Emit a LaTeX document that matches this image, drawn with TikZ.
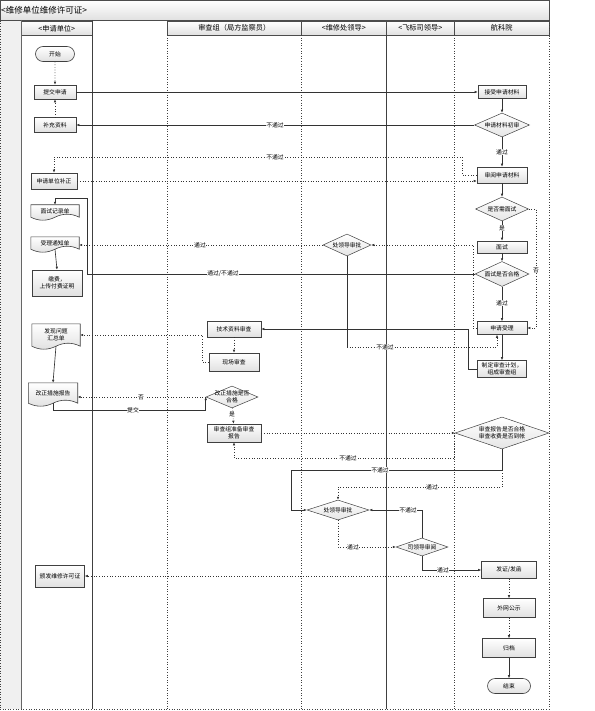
\documentclass[tikz,border=0pt]{standalone}
\usepackage{fontspec}
\setmainfont{Noto Sans CJK SC}
\usetikzlibrary{shapes.geometric,shapes.misc,arrows.meta,calc,backgrounds}
\newcommand{\dianode}[6]{\node[dia, minimum width=#4, minimum height=#5] (#1) at (#2,#3) {}; \node[dtext] (#1-t) at (#1) {#6};}
\newcommand{\docnode}[6]{\node[doc, minimum width=#4, minimum height=#5] (#1) at (#2,#3) {#6};
 \begin{pgfonlayer}{background}\path[draw=black!75, line width=0.6pt, top color=white, bottom color=black!12] (#1.north west) -- (#1.north east) -- (#1.south east) .. controls +(-8,-4) and +(8,-4) .. (#1.south) .. controls +(-8,4) and +(8,4) .. (#1.south west) -- cycle;\end{pgfonlayer}}
\begin{document}
\begin{tikzpicture}[x=1pt,y=-1pt,
  every node/.style={font=\fontsize{5.8}{7}\selectfont},
  box/.style={draw=black!75, line width=0.6pt, top color=white, bottom color=black!12, rectangle, inner sep=0.5pt, align=center},
  term/.style={box, rounded rectangle},
  dia/.style={draw=black!75, line width=0.5pt, diamond, top color=white, bottom color=black!10, inner sep=0pt},
  dtext/.style={align=center, inner sep=0pt},
  doc/.style={inner sep=0.5pt, align=center},
  sline/.style={draw=black!80, line width=0.65pt},
  dline/.style={draw=black!80, line width=0.65pt, dotted},
  arr/.style={-{Latex[length=3pt,width=2.6pt]}},
  lbl/.style={fill=white, inner sep=0.6pt, font=\fontsize{5.8}{6.3}\selectfont},
  lane/.style={draw=black!75, line width=0.6pt},
  laned/.style={draw=black!75, line width=0.6pt, dotted},
  hdr/.style={draw=black!70, line width=0.5pt, top color=white, bottom color=black!12, inner sep=0pt, font=\fontsize{7.2}{8}\selectfont}
]
\useasboundingbox (0,0) rectangle (594,711);
% frame and lanes
\fill[black!6] (0,20) rectangle (21,709);
\draw[laned] (0,0) -- (0,709);
\node[hdr, anchor=north west, minimum width=549, minimum height=20] (title) at (0,0) {};
\node[anchor=west, inner sep=1pt, font=\fontsize{8.5}{9}\selectfont] (title-t) at (0,10) {<维修单位维修许可证>};
\node[hdr, anchor=north west, minimum width=71, minimum height=14] (h1) at (21,21) {<申请单位>};
\node[hdr, anchor=north west, minimum width=134, minimum height=14] (h2) at (167,21) {审查组（局方监察员）};
\node[hdr, anchor=north west, minimum width=85, minimum height=14] (h3) at (301,21) {<维修处领导>};
\node[hdr, anchor=north west, minimum width=68, minimum height=14] (h4) at (386,21) {<飞标司领导>};
\node[hdr, anchor=north west, minimum width=95, minimum height=14] (h5) at (454,21) {航科院};
\draw[lane, draw=black!60, line width=1pt] (21,20) -- (21,709);
\draw[lane] (92,20) -- (92,709);
\draw[laned] (167,35) -- (167,709);
\draw[laned] (301,35) -- (301,709);
\draw[lane] (386,35) -- (386,709);
\draw[laned] (454,35) -- (454,709);
\draw[laned] (549,20) -- (549,709);
\draw[laned] (0,709) -- (549,709);

% lane 1
\node[term, minimum width=40, minimum height=15] (start) at (55,54) {开始};
\node[box, minimum width=42, minimum height=14] (submit) at (55,92) {提交申请};
\node[box, minimum width=42, minimum height=15] (supp) at (55,125) {补充资料};
\node[box, minimum width=46, minimum height=16] (corr) at (54,181) {申请单位补正};
\docnode{irec}{55}{211}{48}{12}{面试记录单}
\docnode{accn}{55}{243}{48}{12}{受理通知单}
\node[box, minimum width=50, minimum height=26] (pay) at (57,283) {缴费，\\上传付费证明};
\docnode{prob}{56}{335}{48}{22}{发现问题\\汇总单}
\docnode{fix}{53}{393}{49}{20}{改正措施报告}
\node[box, minimum width=49, minimum height=22] (issue) at (60,576) {颁发维修许可证};

% lane 审查组
\node[box, minimum width=54, minimum height=16] (tech) at (234,329) {技术资料审查};
\node[box, minimum width=50, minimum height=18] (site) at (234,362) {现场审查};
\dianode{fixok}{232}{397}{52}{22}{改正措施是否\\合格}
\node[box, minimum width=54, minimum height=18] (rep) at (234,433) {审查组准备审查\\报告};

% leaders
\dianode{lead1}{347}{245}{48}{22}{处领导审批}
\dianode{lead2}{338}{510}{62}{20}{处领导审批}
\dianode{dept}{422}{547}{52}{18}{司领导审阅}

% 航科院
\node[box, minimum width=48, minimum height=13] (recv) at (502,92) {接受申请材料};
\dianode{pre}{502}{125}{55}{24}{申请材料初审}
\node[box, minimum width=50, minimum height=16] (rev) at (502,175) {审阅申请材料};
\dianode{needi}{502}{209}{53}{24}{是否需面试}
\node[box, minimum width=50, minimum height=12] (intv) at (502,247) {面试};
\dianode{iok}{502}{274}{54}{25}{面试是否合格}
\node[box, minimum width=50, minimum height=13] (acc) at (502,328) {申请受理};
\node[box, minimum width=49, minimum height=17] (plan) at (502,369) {制定审查计划，\\组成审查组};
\dianode{final}{502}{433}{94}{32}{审查报告是否合格\\审查收费是否到帐}
\node[box, minimum width=55, minimum height=17] (cert) at (509,570) {发证/发函};
\node[box, minimum width=52, minimum height=19] (pub) at (509,608) {外网公示};
\node[box, minimum width=53, minimum height=19] (arch) at (509,648) {归档};
\node[term, minimum width=44, minimum height=15] (end) at (509,686) {结束};

% connectors
\draw[dline,arr] (start) -- (submit);
\draw[sline,arr] (submit.east) -- (recv.west);
\draw[dline,arr] (supp) -- (submit);
\draw[sline,arr] (pre.west) -- (supp.east);
\draw[sline,arr] (recv) -- (pre);
\draw[sline,arr] (pre) -- (rev);
\draw[dline,arr] (rev.west) -| (462,157) -| (corr.north);
\draw[dline,arr] (corr.east) -- (corr.east -| rev.west);
\draw[sline,arr] (rev) -- (needi);
\draw[sline,arr] (needi) -- (intv);
\draw[dline,arr] (needi.east) -| (536,300) |- (acc.east);
\draw[sline,arr] (intv) -- (iok);
\draw[sline,arr] (iok.west) -| (87,198) -| (irec.north);
\draw[sline,arr] (iok) -- (acc);
\draw[dline,arr] (acc.west) -| (473,245) -- (lead1.east);
\draw[dline,arr] (lead1.west) -- (lead1.west -| accn.east);
\coordinate (j1) at (347,347);
\draw[sline] (lead1.south) -- (j1);
\draw[dline,arr] (j1) -| ($(acc.south)+(-5,0)$);
\draw[sline,arr] (acc) -- (plan);
\draw[sline,arr] (plan.west) -| (468,329) -- (tech.east);
\draw[dline,arr] (tech) -- (site);
\draw[dline,arr] (site.west) -| (202,335) -- (prob.east);
\draw[sline,arr] (prob.south) -- (fix.north);
\draw[sline,arr] (fix.south) |- ($(fixok.west)+(0,13)$) -- (fixok.west);
\draw[dline,arr] (fixok.west) -- (fixok.west -| fix.east);
\draw[dline,arr] (fixok) -- (rep);
\draw[dline,arr] (rep.east) -- (final.west);
\draw[dline,arr] (final.west) |- ($(rep.south)+(0,16)$) -- (rep.south);
\draw[sline,arr] (final.south) |- (291,470) |- (lead2.west);
\draw[dline,arr] (final.south) |- (338,487) -- (lead2.north);
\draw[sline,arr] (dept.north) |- (lead2.east);
\draw[dline,arr] (lead2.south) |- (dept.west);
\draw[sline,arr] (dept.south) |- (cert.west);
\draw[dline,arr] (cert.west |- issue.east) -- (issue.east);
\draw[dline,arr] (cert) -- (pub);
\draw[dline,arr] (pub) -- (arch);
\draw[sline,arr] (arch) -- (end);
\draw[sline,arr] (accn.south) -- (pay.north);

% labels
\node[lbl] (la) at (275,125) {不通过};
\node[lbl] (lb) at (502,152) {通过};
\node[lbl] (lc) at (275,157) {不通过};
\node[lbl] (ld) at (502,228) {是};
\node[lbl] (le) at (536,270) {否};
\node[lbl] (lf) at (200,245) {通过};
\node[lbl] (lg) at (223,274) {通过/不通过};
\node[lbl] (lh) at (502,303) {通过};
\node[lbl] (li) at (385,347) {不通过};
\node[lbl] (lj) at (141,397) {否};
\node[lbl] (lk) at (133,410) {提交};
\node[lbl] (ll) at (232,414) {是};
\node[lbl] (lm) at (348,458) {不通过};
\node[lbl] (ln) at (380,470) {不通过};
\node[lbl] (lo) at (432,487) {通过};
\node[lbl] (lp) at (408,510) {不通过};
\node[lbl] (lq) at (353,547) {通过};
\node[lbl] (lr) at (443,570) {通过};
\end{tikzpicture}
\end{document}
